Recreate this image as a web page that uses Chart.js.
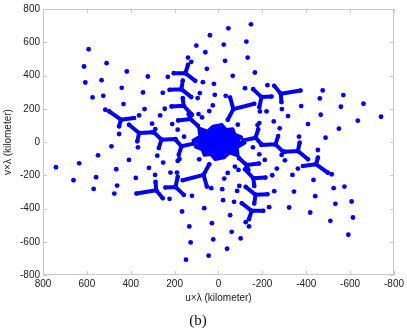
<!DOCTYPE html>
<html><head><meta charset="utf-8">
<script src="https://cdn.jsdelivr.net/npm/chart.js@4/dist/chart.umd.min.js"></script>
<style>html,body{margin:0;padding:0;background:#fff;}</style>
</head><body>
<canvas id="c" width="407" height="330"></canvas>
<script>
const xTickValues = [800, 600, 400, 200, 0, -200, -400, -600, -800];
const yTickValues = [-800, -600, -400, -200, 0, 200, 400, 600, 800];
const xTitle = 'u×λ (kilometer)';
const yTitle = 'v×λ (kilometer)';
const caption = '(b)';

// isolated uv samples (upper half and its conjugate half)
const upperDotU = [-148,-45,39,-127,-24,101,592,60,139,-133,-30,124,510,613,53,418,-166,-65,322,231,533,607,71,21,-223,441,254,574,525,344,85,95,17,-33,-475,-569,-462,-558,-661,-377,-289,516,433,337,245,-219,-189,-466,-317,-741,-635,362,266,-408,-279,-549,-178,303,288,211,186,157,-367,-488,453,-252,-186,91,75,42,26,-88,-121];
const upperDotV = [708,684,642,604,586,580,558,540,508,508,488,482,474,454,440,424,418,398,394,392,372,358,360,350,342,326,296,268,278,298,294,264,284,278,310,282,262,212,230,216,198,194,228,198,200,184,184,164,156,152,128,160,160,108,82,80,102,110,78,108,74,32,32,26,48,124,114,168,148,186,220,104,324];
const lowerDotU = [148,45,-39,127,24,-101,-592,-60,-139,133,30,-124,-510,-613,-53,-418,166,65,-322,-231,-533,-607,-71,-21,223,-441,-254,-574,-525,-344,-85,-95,-17,33,475,569,462,558,661,377,289,-516,-433,-337,-245,219,189,466,317,741,635,-362,-266,408,279,549,178,-303,-288,-211,-186,-157,367,488,-453,252,186,-91,-75,-42,-26,88,121];
const lowerDotV = [-708,-684,-642,-604,-586,-580,-558,-540,-508,-508,-488,-482,-474,-454,-440,-424,-418,-398,-394,-392,-372,-358,-360,-350,-342,-326,-296,-268,-278,-298,-294,-264,-284,-278,-310,-282,-262,-212,-230,-216,-198,-194,-228,-198,-200,-184,-184,-164,-156,-152,-128,-160,-160,-108,-82,-80,-102,-110,-78,-108,-74,-32,-32,-26,-48,-124,-114,-168,-148,-186,-220,-104,-324];

// Y-shaped tracks: centre and three arm ends
const yCenU = [151,169,159,128,445,362,260,169,-68,-196,-284,-151,-169,-159,-128,-445,-362,-260,-169,68,196,284];
const yCenV = [414,318,218,138,134,54,14,-26,198,270,290,-414,-318,-218,-138,-134,-54,-14,26,-198,-270,-290];
const armAU = [204,223,214,184,498,408,294,196,-53,-158,-254,-204,-223,-214,-184,-498,-408,-294,-196,53,158,254];
const armAV = [414,314,214,130,184,104,58,14,268,318,338,-414,-314,-214,-130,-184,-104,-58,-14,-268,-318,-338];
const armBU = [139,163,163,136,385,302,196,113,-163,-242,-374,-139,-163,-163,-136,-385,-302,-196,-113,163,242,374];
const armBV = [464,370,264,168,144,58,18,-10,230,274,310,-464,-370,-264,-168,-144,-58,-18,10,-230,-274,-310];
const armCU = [106,124,121,94,453,370,272,181,-42,-186,-287,-106,-124,-121,-94,-453,-370,-272,-181,42,186,287];
const armCV = [368,270,164,98,94,4,-36,-76,134,210,240,-368,-270,-164,-98,-94,-4,36,76,-134,-210,-240];

// dense core outline
const coreU = [121,85,90,50,25,-15,-35,-65,-75,-105,-85,-121,-85,-90,-50,-25,15,35,65,75,105,85,121];
const coreV = [6,35,84,65,95,106,75,80,45,30,5,-6,-35,-84,-65,-95,-106,-75,-80,-45,-30,-5,6];

const BLUE = '#0000ff';
const FONT = "'Liberation Sans', Arial, sans-serif";
const zip = (a, b) => a.map((v, i) => ({x: v, y: b[i]}));

const datasets = [];
datasets.push({data: zip(upperDotU, upperDotV).concat(zip(lowerDotU, lowerDotV)),
  pointRadius: 2.4, pointBackgroundColor: BLUE, pointBorderWidth: 0, showLine: false});
for (let i = 0; i < yCenU.length; i++) {
  datasets.push({
    data: [
      {x: armAU[i], y: armAV[i]}, {x: yCenU[i], y: yCenV[i]}, {x: armBU[i], y: armBV[i]},
      {x: yCenU[i], y: yCenV[i]}, {x: armCU[i], y: armCV[i]}
    ],
    showLine: true, borderColor: BLUE, borderWidth: 4, borderCapStyle: 'round', borderJoinStyle: 'round',
    pointRadius: 2.3, pointBackgroundColor: BLUE, pointBorderWidth: 0, tension: 0
  });
}
datasets.push({data: zip(coreU, coreV), showLine: true, fill: 'shape', backgroundColor: BLUE,
  borderColor: BLUE, borderWidth: 3, borderJoinStyle: 'round', pointRadius: 0, tension: 0});

const framePlugin = {
  id: 'frame',
  beforeDatasetsDraw(chart) {
    const {ctx, chartArea: a, scales: {x, y}} = chart;
    ctx.save();
    ctx.strokeStyle = '#c8c8c8';
    ctx.lineWidth = 1;
    ctx.strokeRect(a.left + 0.5, a.top + 0.5, a.right - a.left - 1, a.bottom - a.top - 1);
    ctx.beginPath();
    for (const v of xTickValues) {
      const px = Math.round(x.getPixelForValue(v)) + 0.5;
      ctx.moveTo(px, a.bottom); ctx.lineTo(px, a.bottom - 4);
      ctx.moveTo(px, a.top); ctx.lineTo(px, a.top + 4);
    }
    for (const v of yTickValues) {
      const py = Math.round(y.getPixelForValue(v)) + 0.5;
      ctx.moveTo(a.left, py); ctx.lineTo(a.left + 4, py);
      ctx.moveTo(a.right, py); ctx.lineTo(a.right - 4, py);
    }
    ctx.stroke();
    ctx.restore();
  }
};

new Chart(document.getElementById('c'), {
  type: 'scatter',
  data: {datasets},
  plugins: [framePlugin],
  options: {
    responsive: false,
    devicePixelRatio: 1,
    animation: false,
    layout: {padding: {top: 9, right: 11, left: 0, bottom: 0}},
    plugins: {
      legend: {display: false},
      tooltip: {enabled: false},
      title: {display: true, text: caption, position: 'bottom', color: '#111',
        font: {family: "'Liberation Serif', 'Times New Roman', serif", size: 15, weight: 'normal'},
        padding: {top: 4, bottom: 0}}
    },
    scales: {
      x: {
        type: 'linear', position: 'bottom', min: -800, max: 800, reverse: true,
        grid: {display: false, drawTicks: false}, border: {display: false},
        afterBuildTicks: s => { s.ticks = xTickValues.map(v => ({value: v})); },
        afterFit: s => { s.height = 33; },
        ticks: {color: '#222', font: {family: FONT, size: 10}, padding: 3, maxRotation: 0, autoSkip: false,
          callback: v => String(v)},
        title: {display: true, text: xTitle, color: '#222', font: {family: FONT, size: 10},
          padding: {top: 2, bottom: 4}}
      },
      y: {
        type: 'linear', position: 'left', min: -800, max: 800,
        grid: {display: false, drawTicks: false}, border: {display: false},
        afterBuildTicks: s => { s.ticks = yTickValues.map(v => ({value: v})); },
        afterFit: s => { s.width = 43; },
        ticks: {color: '#222', font: {family: FONT, size: 10}, padding: 3, autoSkip: false,
          callback: v => String(v)},
        title: {display: true, text: yTitle, color: '#222', font: {family: FONT, size: 10},
          padding: {top: 2, bottom: 0}}
      }
    }
  }
});
</script>
</body></html>
